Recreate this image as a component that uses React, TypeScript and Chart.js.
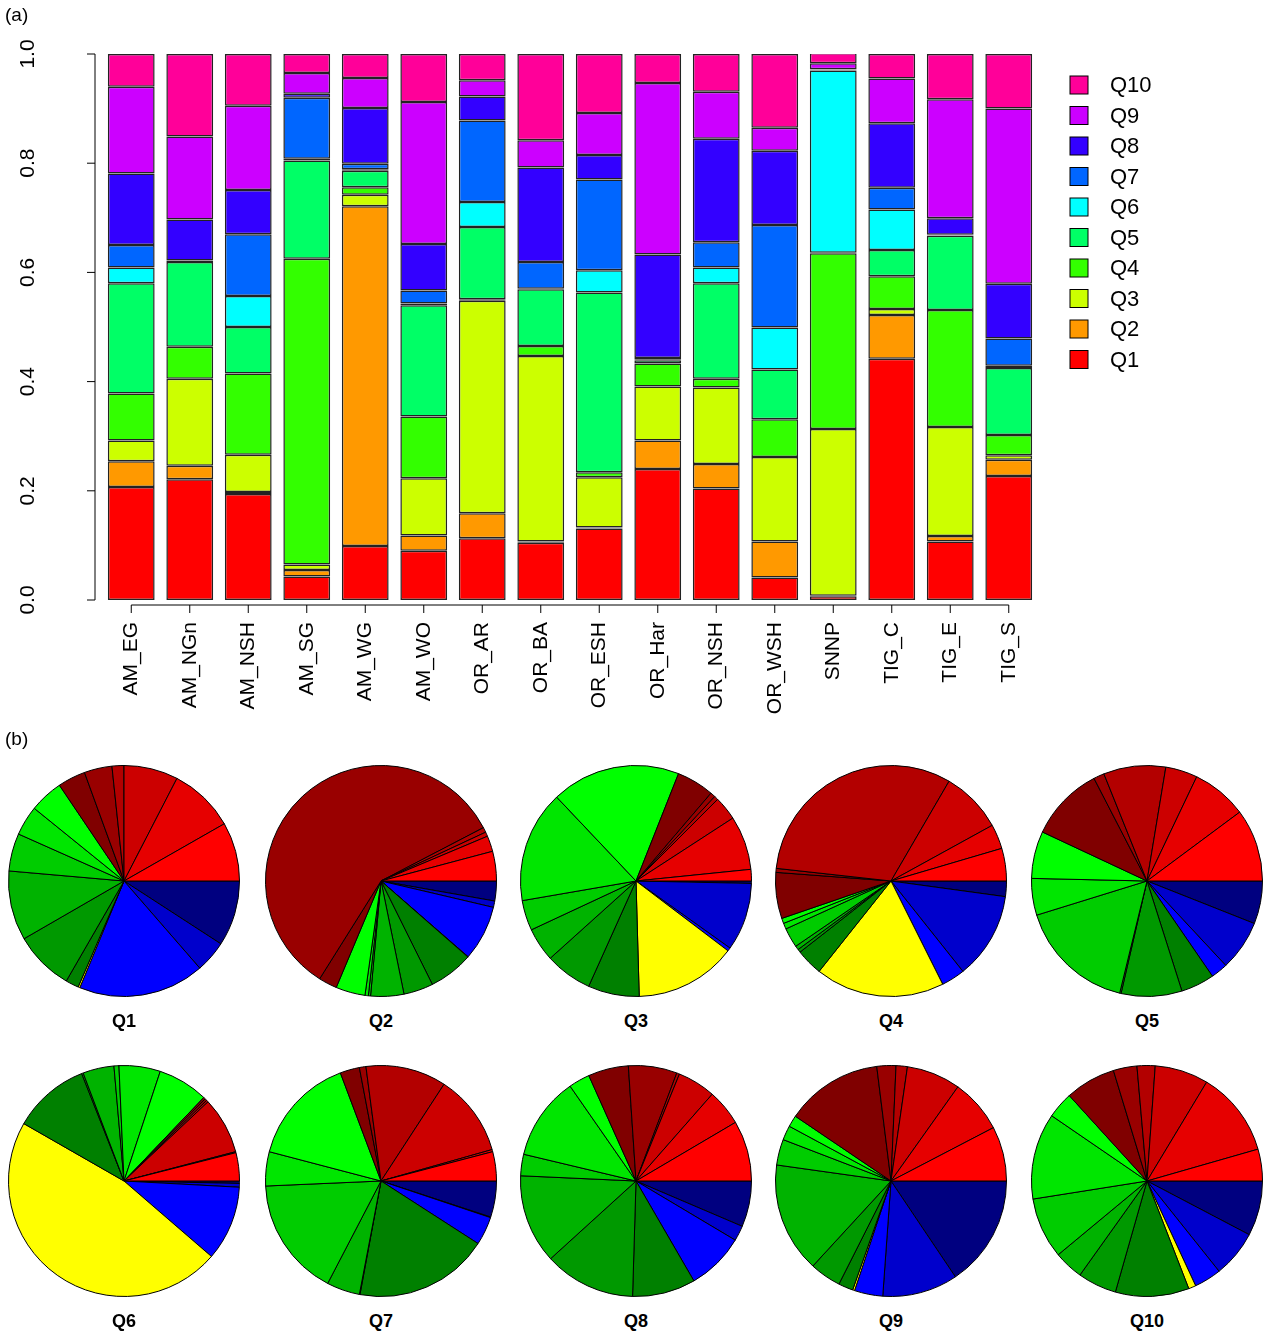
import { useEffect, useRef } from "react"
import { Chart, registerables } from "chart.js"

Chart.register(...registerables)

const regions = ["AM_EG", "AM_NGn", "AM_NSH", "AM_SG", "AM_WG", "AM_WO", "OR_AR", "OR_BA", "OR_ESH", "OR_Har", "OR_NSH", "OR_WSH", "SNNP", "TIG_C", "TIG_E", "TIG_S"]
const quintiles = ["Q1", "Q2", "Q3", "Q4", "Q5", "Q6", "Q7", "Q8", "Q9", "Q10"]
const qColors = ["#FF0000", "#FF9900", "#CCFF00", "#33FF00", "#00FF66", "#00FFFF", "#0066FF", "#3300FF", "#CC00FF", "#FF0099"]
const regionColors = ["#FF0000", "#E60000", "#CC0000", "#B30000", "#990000", "#800000", "#00FF00", "#00E600", "#00CC00", "#00B300", "#009900", "#008000", "#FFFF00", "#0000FF", "#0000CC", "#000080"]

// share of each quantile per region (rows = regions, columns = Q1..Q10)
const AM_EG = [0.207, 0.047, 0.038, 0.086, 0.202, 0.029, 0.041, 0.131, 0.159, 0.06]
const AM_NGn = [0.221, 0.025, 0.159, 0.059, 0.155, 0.002, 0.001, 0.075, 0.152, 0.151]
const AM_NSH = [0.194, 0.004, 0.068, 0.149, 0.085, 0.057, 0.113, 0.081, 0.154, 0.095]
const AM_SG = [0.043, 0.012, 0.01, 0.56, 0.18, 0.003, 0.112, 0.007, 0.038, 0.035]
const AM_WG = [0.099, 0.622, 0.021, 0.014, 0.03, 0.003, 0.01, 0.102, 0.055, 0.044]
const AM_WO = [0.09, 0.028, 0.105, 0.113, 0.204, 0.003, 0.024, 0.085, 0.26, 0.088]
const OR_AR = [0.113, 0.046, 0.389, 0.003, 0.132, 0.046, 0.149, 0.044, 0.03, 0.048]
const OR_BA = [0.105, 0.002, 0.34, 0.018, 0.104, 0.001, 0.049, 0.173, 0.05, 0.158]
const OR_ESH = [0.131, 0.002, 0.092, 0.009, 0.329, 0.041, 0.166, 0.045, 0.077, 0.108]
const OR_Har = [0.24, 0.052, 0.099, 0.042, 0.006, 0.002, 0.002, 0.19, 0.314, 0.053]
const OR_NSH = [0.204, 0.045, 0.14, 0.016, 0.175, 0.029, 0.046, 0.19, 0.086, 0.069]
const OR_WSH = [0.041, 0.066, 0.155, 0.069, 0.091, 0.077, 0.188, 0.136, 0.042, 0.135]
const SNNP = [0.007, 0.001, 0.305, 0.322, 0.001, 0.334, 0.001, 0.001, 0.011, 0.019]
const TIG_C = [0.442, 0.08, 0.011, 0.06, 0.048, 0.074, 0.04, 0.118, 0.082, 0.045]
const TIG_E = [0.107, 0.01, 0.2, 0.214, 0.136, 0.001, 0.001, 0.03, 0.218, 0.083]
const TIG_S = [0.227, 0.03, 0.008, 0.037, 0.123, 0.004, 0.05, 0.1, 0.321, 0.1]
const shares = [AM_EG, AM_NGn, AM_NSH, AM_SG, AM_WG, AM_WO, OR_AR, OR_BA, OR_ESH, OR_Har, OR_NSH, OR_WSH, SNNP, TIG_C, TIG_E, TIG_S]
const yTicks = ["0.0", "0.2", "0.4", "0.6", "0.8", "1.0"]

// pie slices per quantile, in region order (degrees)
const pieQ1 = [29.7, 33, 27.3, 6, 14, 14, 17, 15, 19, 35, 30, 6.6, 0.9, 63.5, 16, 33]
const pieQ2 = [14.9, 7.9, 2.2, 2.5, 210.4, 9.3, 14.8, 1.7, 1.1, 16.7, 14.9, 22.4, 0.2, 27.8, 3.2, 10]
const pieQ3 = [5.8, 27.2, 12, 2, 2.5, 18.9, 65, 56.4, 15.2, 17, 23.8, 25.8, 51.2, 1.7, 34.3, 1.2]
const pieQ4 = [16.4, 12.4, 31, 113.9, 2, 23.2, 2.6, 3, 9.9, 2, 1.6, 13.5, 65.1, 11.9, 43.7, 7.8]
const pieQ5 = [36.6, 27.9, 16.1, 31.3, 5.4, 37.6, 23.8, 18.5, 59.1, 0.7, 30.6, 16.9, 0, 8.5, 25.4, 21.6]
const pieQ6 = [14.2, 0.5, 28.6, 1, 1, 1, 25.4, 20.8, 2.5, 15.7, 0.8, 38.7, 169, 37.7, 1.9, 1.2]
const pieQ7 = [14.7, 1.1, 41.1, 40.6, 3.3, 9.8, 54.7, 17.2, 60, 16.7, 0.3, 67.7, 0, 14.3, 0.3, 18.2]
const pieQ8 = [30.5, 18.2, 19.2, 1.4, 24.5, 20.3, 10.7, 41.8, 10.8, 44.9, 46, 31.8, 0, 29.1, 7.7, 23.1]
const pieQ9 = [27.5, 27.1, 27.2, 5.7, 9.6, 48.8, 5.8, 7.3, 13, 55.4, 15.8, 7.4, 1, 14.3, 38, 56.1]
const pieQ10 = [16, 42.9, 27, 9.1, 11.9, 25.4, 13.3, 43.4, 30.7, 14.8, 19.6, 37.1, 3.7, 13.7, 23.7, 27.7]
const pies = [pieQ1, pieQ2, pieQ3, pieQ4, pieQ5, pieQ6, pieQ7, pieQ8, pieQ9, pieQ10]

const FONT = "'Liberation Sans', Arial, sans-serif"

const rAxes = {
  id: "rAxes",
  afterDraw(chart: Chart) {
    const ctx = chart.ctx
    const x = chart.scales.x
    const y = chart.scales.y
    ctx.save()
    ctx.strokeStyle = "#000"
    ctx.fillStyle = "#000"
    ctx.lineWidth = 1
    // y axis
    const ax = 95
    ctx.beginPath()
    ctx.moveTo(ax, y.getPixelForValue(0))
    ctx.lineTo(ax, y.getPixelForValue(1))
    yTicks.forEach(t => {
      const py = y.getPixelForValue(Number(t))
      ctx.moveTo(ax, py)
      ctx.lineTo(ax - 8, py)
    })
    ctx.stroke()
    ctx.font = `21px ${FONT}`
    ctx.textAlign = "center"
    ctx.textBaseline = "middle"
    yTicks.forEach(t => {
      const py = y.getPixelForValue(Number(t))
      ctx.save()
      ctx.translate(28, py)
      ctx.rotate(-Math.PI / 2)
      ctx.fillText(t, 0, 0)
      ctx.restore()
    })
    // x axis
    const ay = 605
    ctx.beginPath()
    ctx.moveTo(x.getPixelForValue(0), ay)
    ctx.lineTo(x.getPixelForValue(regions.length - 1), ay)
    regions.forEach((_, i) => {
      const px = x.getPixelForValue(i)
      ctx.moveTo(px, ay)
      ctx.lineTo(px, ay + 8)
    })
    ctx.stroke()
    ctx.textAlign = "right"
    regions.forEach((r, i) => {
      const px = x.getPixelForValue(i)
      ctx.save()
      ctx.translate(px, 622)
      ctx.rotate(-Math.PI / 2)
      ctx.fillText(r, 0, 0)
      ctx.restore()
    })
    // legend
    ctx.font = `22px ${FONT}`
    ctx.textAlign = "left"
    for (let k = 0; k < quintiles.length; k++) {
      const qi = quintiles.length - 1 - k
      const cy = 85 + k * 30.5
      ctx.fillStyle = qColors[qi]
      ctx.fillRect(1070, cy - 9, 18, 18)
      ctx.strokeRect(1070, cy - 9, 18, 18)
      ctx.fillStyle = "#000"
      ctx.fillText(quintiles[qi], 1110, cy + 1)
    }
    ctx.restore()
  },
}

function BarChart() {
  const ref = useRef<HTMLCanvasElement>(null)
  useEffect(() => {
    if (!ref.current) return
    const chart = new Chart(ref.current, {
      type: "bar",
      data: {
        labels: regions,
        datasets: quintiles.map((q, qi) => ({
          label: q,
          data: shares.map(s => s[qi]),
          backgroundColor: qColors[qi],
          borderColor: "#222",
          borderWidth: 1.5,
          borderSkipped: false,
          barPercentage: 0.8,
          categoryPercentage: 1,
        })),
      },
      options: {
        animation: false,
        responsive: false,
        layout: { padding: { left: 102, right: 1266 - 1038, top: 54, bottom: 740 - 600 } },
        plugins: { legend: { display: false }, tooltip: { enabled: false } },
        scales: {
          x: { stacked: true, display: false },
          y: { stacked: true, display: false, min: 0, max: 1 },
        },
      },
      plugins: [rAxes],
    })
    return () => chart.destroy()
  }, [])
  return <canvas ref={ref} width={1266} height={740} style={{ position: "absolute", left: 0, top: 0 }} />
}

function Pie({ values, cx, cy }: { values: number[]; cx: number; cy: number }) {
  const ref = useRef<HTMLCanvasElement>(null)
  useEffect(() => {
    if (!ref.current) return
    const chart = new Chart(ref.current, {
      type: "pie",
      data: {
        labels: [...regions].reverse(),
        datasets: [
          {
            data: [...values].reverse(),
            backgroundColor: [...regionColors].reverse(),
            borderColor: "#000",
            borderWidth: 1,
          },
        ],
      },
      options: {
        animation: false,
        responsive: false,
        rotation: 90,
        layout: { padding: 9 },
        plugins: { legend: { display: false }, tooltip: { enabled: false } },
      },
    })
    return () => chart.destroy()
  }, [values])
  return <canvas ref={ref} width={250} height={250} style={{ position: "absolute", left: cx - 125, top: cy - 125 }} />
}

const pieX = [124, 381, 636, 891, 1147]
const pieY = [881, 1181]

export default function App() {
  return (
    <div style={{ position: "absolute", left: 0, top: 0, width: 1266, height: 1333, background: "#fff", fontFamily: FONT }}>
      <BarChart />
      <div style={{ position: "absolute", left: 5, top: 4, fontSize: 19 }}>(a)</div>
      <div style={{ position: "absolute", left: 5, top: 728, fontSize: 19 }}>(b)</div>
      {pies.map((p, i) => {
        const cx = pieX[i % 5]
        const cy = pieY[Math.floor(i / 5)]
        return (
          <div key={i}>
            <Pie values={p} cx={cx} cy={cy} />
            <div style={{ position: "absolute", left: cx - 40, width: 80, top: cy + 130, textAlign: "center", fontWeight: "bold", fontSize: 18 }}>
              {quintiles[i]}
            </div>
          </div>
        )
      })}
    </div>
  )
}
